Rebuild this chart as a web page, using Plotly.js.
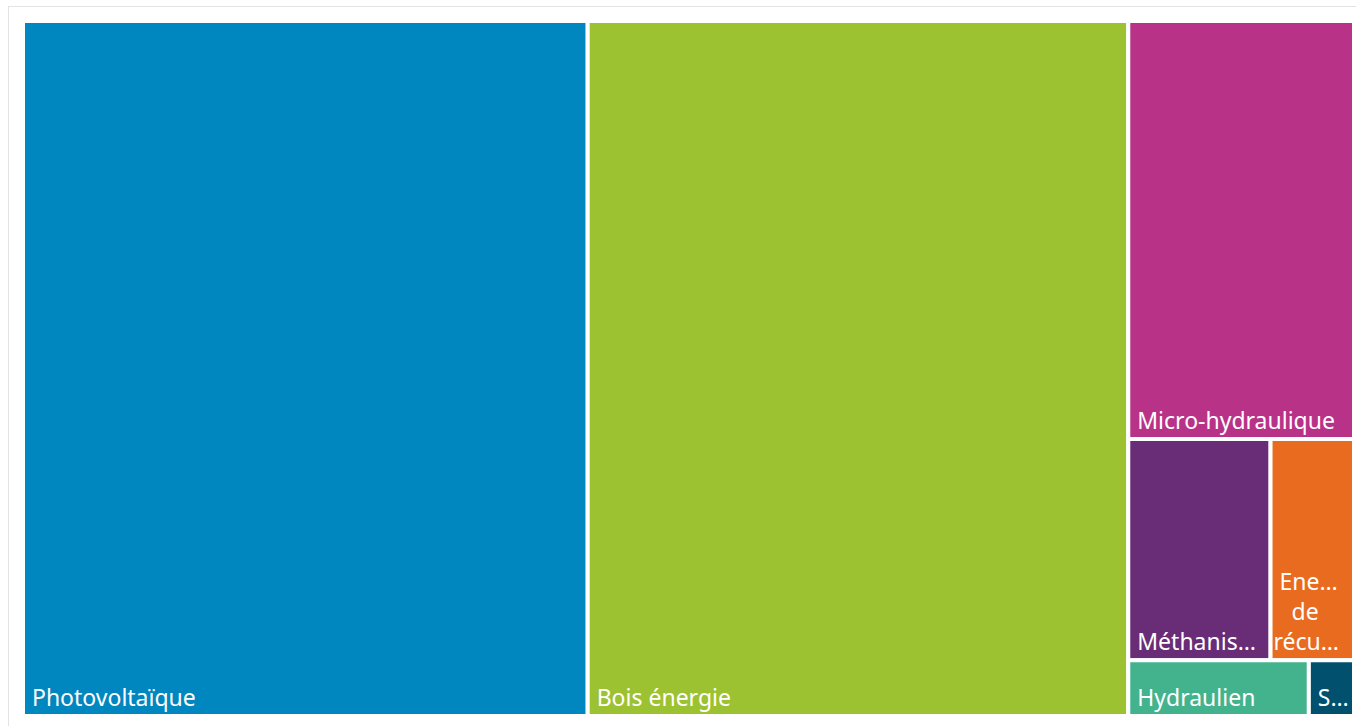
<!DOCTYPE html>
<html>
<head>
<meta charset="utf-8">
<script src="https://cdn.plot.ly/plotly-3.0.1.min.js"></script>
<style>
  html, body { margin: 0; padding: 0; background: #ffffff; }
  #frame { position: absolute; left: 8px; top: 6px; width: 1360px; height: 740px;
           border-top: 1px solid #e3e3e3; border-left: 1px solid #e3e3e3; }
  #chart { position: absolute; left: 0; top: 0; width: 1356px; height: 726px; }
</style>
</head>
<body>
<div id="frame"></div>
<div id="chart"></div>
<script>
// Categories (full names) and the labels as displayed in the reference
const categories = ["Photovoltaïque", "Bois énergie", "Micro-hydraulique", "Méthanisation",
                    "Energie de récupération", "Hydraulien", "Solaire thermique"];
const displayLabels = ["Photovoltaïque", "Bois énergie", "Micro-hydraulique", "Méthanis…",
                       "Ene…<br>\u00a0\u00a0\u00a0de<br>récu…", "Hydraulien", "S…"];
const values = [389.0, 372.4, 93.5, 31.2, 18.3, 10.0, 2.5];
const colors = ["#0087C0", "#9DC231", "#B83388", "#692D77", "#E96B20", "#43B38E", "#00506E"];

const trace = {
  type: "treemap",
  labels: categories,
  parents: categories.map(() => ""),
  values: values,
  text: displayLabels,
  texttemplate: "\u00a0%{text}",
  textposition: "bottom left",
  textfont: { family: "Noto Sans, Open Sans, sans-serif", size: 23, color: "#ffffff" },
  marker: { colors: colors, line: { color: "#ffffff", width: 4 }, pad: { t: 0, l: 0, r: 0, b: 0 } },
  tiling: { packing: "squarify", squarifyratio: 1.45, pad: 0 },
  sort: true,
  pathbar: { visible: false },
  hoverinfo: "label+value",
  branchvalues: "remainder"
};

const layout = {
  width: 1356, height: 726,
  margin: { l: 23, r: 2, t: 21, b: 10 },
  paper_bgcolor: "rgba(0,0,0,0)",
  uniformtext: { minsize: 23, mode: "show" },
  showlegend: false
};

Plotly.newPlot("chart", [trace], layout, { displayModeBar: false, responsive: false });
</script>
</body>
</html>
